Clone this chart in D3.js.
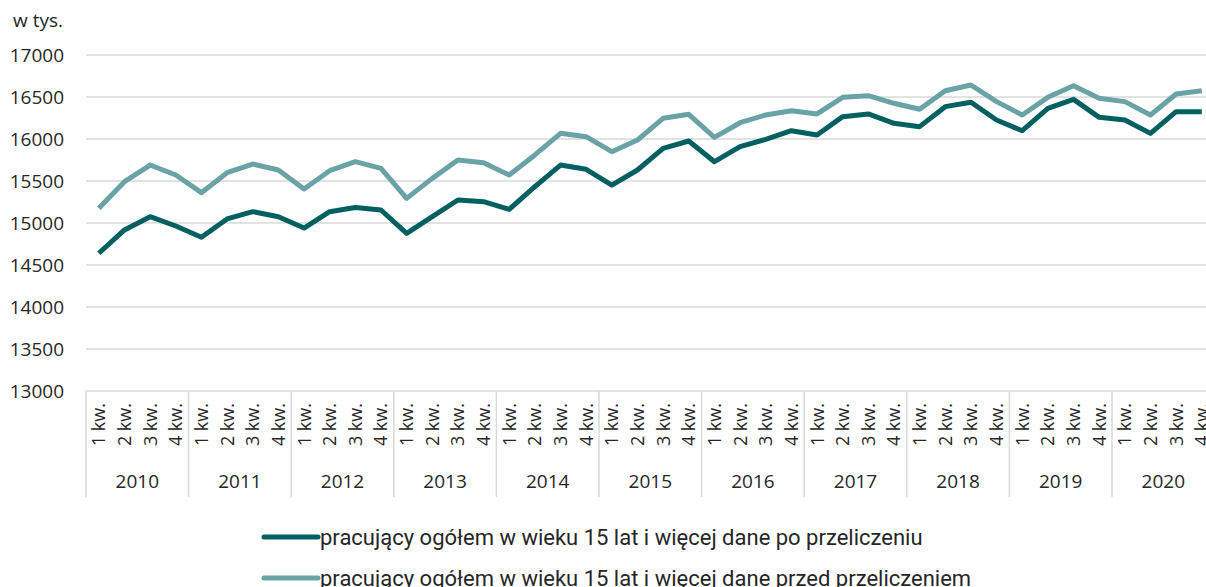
<!DOCTYPE html>
<html><head><meta charset="utf-8">
<script src="https://cdn.jsdelivr.net/npm/d3@7"></script>
<style>body{margin:0;background:#fff;overflow:hidden}svg{display:block}</style>
</head><body>
<svg id="c" width="1206" height="587"></svg>
<script>
const years = ["2010","2011","2012","2013","2014","2015","2016","2017","2018","2019","2020"];
const quarters = ["1 kw.","2 kw.","3 kw.","4 kw."];
const yTicks = [13000,13500,14000,14500,15000,15500,16000,16500,17000];
const seriesNames = ["pracujący ogółem w wieku 15 lat i więcej dane po przeliczeniu","pracujący ogółem w wieku 15 lat i więcej dane przed przeliczeniem"];
const poPrzeliczeniu = [14640,14917,15075,14964, 14830,15048,15135,15075, 14940,15135,15185,15155, 14876,15075,15274,15254,
  15163,15432,15690,15639, 15452,15631,15889,15976, 15730,15909,15996,16099, 16048,16266,16298,16187,
  16147,16385,16437,16226, 16099,16365,16472,16258, 16226,16067,16325,16325];
const przedPrzeliczeniem = [15175,15492,15690,15571, 15361,15599,15702,15631, 15405,15623,15730,15651, 15293,15531,15750,15718,
  15571,15810,16068,16028, 15849,15988,16246,16294, 16020,16194,16286,16337, 16298,16496,16516,16425,
  16354,16575,16643,16445, 16286,16496,16635,16484, 16445,16286,16536,16575];
const colors = ["#005f61","#69a3a6"];

const svg = d3.select("#c");
const x0 = 86, qW = 25.65;
const keys = [];
years.forEach(y => quarters.forEach(q => keys.push(y + "|" + q)));
const x = d3.scaleBand().domain(keys).range([x0, x0 + keys.length * qW]);
const y = d3.scaleLinear().domain([13000,17000]).range([391,55]);
const font = "'Open Sans', 'Noto Sans', sans-serif";
const txt = "#262626";

// gridlines
svg.append("g").selectAll("line").data(yTicks).join("line")
  .attr("x1", x0).attr("x2", 1206).attr("y1", d => y(d)).attr("y2", d => y(d))
  .attr("stroke", "#d9d9d9").attr("stroke-width", 1.5);
// y labels
svg.append("g").selectAll("text").data(yTicks).join("text")
  .attr("x", 64).attr("y", d => y(d)).attr("dy", "0.36em").attr("text-anchor", "end")
  .attr("font-family", font).attr("font-size", 19).attr("fill", txt).text(d => d);
svg.append("text").attr("x", 13).attr("y", 27).attr("font-family", font).attr("font-size", 19)
  .attr("fill", txt).text("w tys.");

// year separators
const yearBounds = years.map((yr, i) => x(yr + "|" + quarters[0]));
yearBounds.push(x0 + keys.length * qW);
svg.append("g").selectAll("line").data(yearBounds).join("line")
  .attr("x1", d => d).attr("x2", d => d).attr("y1", 391).attr("y2", 497)
  .attr("stroke", "#d9d9d9").attr("stroke-width", 1.5);
// quarter labels
svg.append("g").selectAll("text").data(keys).join("text")
  .attr("transform", d => `translate(${x(d) + x.bandwidth()/2},403) rotate(-90)`)
  .attr("dy", "0.36em").attr("text-anchor", "end")
  .attr("font-family", font).attr("font-size", 18).attr("fill", txt)
  .text(d => d.split("|")[1]);
// year labels
svg.append("g").selectAll("text").data(years).join("text")
  .attr("x", (d) => x(d + "|" + quarters[0]) + 2 * qW).attr("y", 488).attr("text-anchor", "middle")
  .attr("font-family", font).attr("font-size", 19).attr("fill", txt).text(d => d);

// lines
const line = d3.line().x((d, i) => x(keys[i]) + x.bandwidth()/2).y(d => y(d));
[poPrzeliczeniu, przedPrzeliczeniem].slice().reverse().forEach((s, j) => {
  const idx = 1 - j;
  svg.append("path").datum(s).attr("d", line).attr("fill", "none")
    .attr("stroke", colors[idx]).attr("stroke-width", 5).attr("stroke-linejoin", "round");
});

// legend
const legFont = "'Liberation Sans Narrow', 'Roboto', sans-serif";
seriesNames.forEach((n, i) => {
  const ly = 537 + i * 41;
  svg.append("line").attr("x1", 264).attr("x2", 318).attr("y1", ly).attr("y2", ly)
    .attr("stroke", colors[i]).attr("stroke-width", 5).attr("stroke-linecap", "round");
  svg.append("text").attr("x", 320).attr("y", ly).attr("dy", "0.36em")
    .attr("font-family", legFont).attr("font-size", 22).attr("fill", txt).text(n);
});
</script>
</body></html>
